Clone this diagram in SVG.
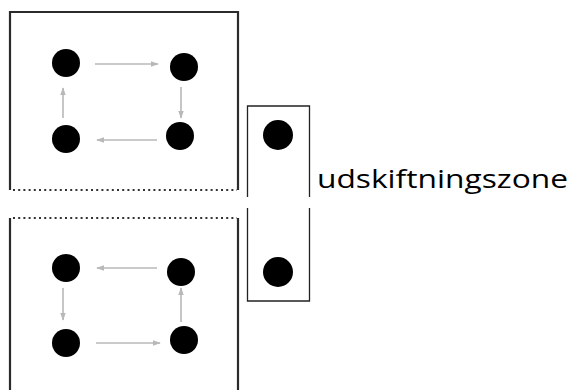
<svg xmlns="http://www.w3.org/2000/svg" width="580" height="390" viewBox="0 0 580 390">
<style>
.frame{fill:none;stroke:#2b2b2b;stroke-width:2.2}
.dot{fill:none;stroke:#333;stroke-width:2;stroke-dasharray:2 3.2}
.zone{fill:none;stroke:#222;stroke-width:1.3}
.n{fill:#000}
.arr{stroke:#b8b8b8;stroke-width:1.6;fill:none;marker-end:url(#ah)}
.lbl{font-family:"Open Sans","Liberation Sans",Arial,sans-serif;font-size:26px;fill:#000}
</style>
<defs>
<marker id="ah" viewBox="0 0 10 10" refX="9" refY="5" markerWidth="8" markerHeight="8" orient="auto" markerUnits="userSpaceOnUse">
<path d="M0,1.5 L10,5 L0,8.5 z" fill="#b8b8b8"/>
</marker>
</defs>
<g id="frames">
<path class="frame" d="M10,190 V12 H238 V190"/>
<line class="dot" x1="13" y1="190" x2="237" y2="190"/>
<path class="frame" d="M10,390 V218 M238,218 V390"/>
<line class="dot" x1="13" y1="218" x2="237" y2="218"/>
<path class="zone" d="M247.5,197 V106 H309.5 V197 M247.5,208 V301 H309.5 V208"/>
</g>
<g id="connectors">
<line class="arr" x1="95" y1="64" x2="158" y2="64"/>
<line class="arr" x1="181" y1="87" x2="181" y2="118"/>
<line class="arr" x1="157" y1="140" x2="97" y2="140"/>
<line class="arr" x1="63" y1="118" x2="63" y2="88"/>
<line class="arr" x1="157" y1="268" x2="97" y2="268"/>
<line class="arr" x1="63" y1="288" x2="63" y2="320"/>
<line class="arr" x1="96" y1="343" x2="160" y2="343"/>
<line class="arr" x1="181" y1="322" x2="181" y2="288"/>
</g>
<g id="n1"><circle class="n" cx="66" cy="63" r="14"/></g>
<g id="n2"><circle class="n" cx="184" cy="67" r="14"/></g>
<g id="n3"><circle class="n" cx="180" cy="136" r="14"/></g>
<g id="n4"><circle class="n" cx="66" cy="139" r="14"/></g>
<g id="n5"><circle class="n" cx="66" cy="268" r="14"/></g>
<g id="n6"><circle class="n" cx="181" cy="272" r="14"/></g>
<g id="n7"><circle class="n" cx="66" cy="343" r="14"/></g>
<g id="n8"><circle class="n" cx="184" cy="340" r="14"/></g>
<g id="n9"><circle class="n" cx="278" cy="135" r="15"/></g>
<g id="n10"><circle class="n" cx="278" cy="272" r="15"/></g>
<g id="label"><text class="lbl" x="317" y="188" textLength="251" lengthAdjust="spacingAndGlyphs">udskiftningszone</text></g>
</svg>
